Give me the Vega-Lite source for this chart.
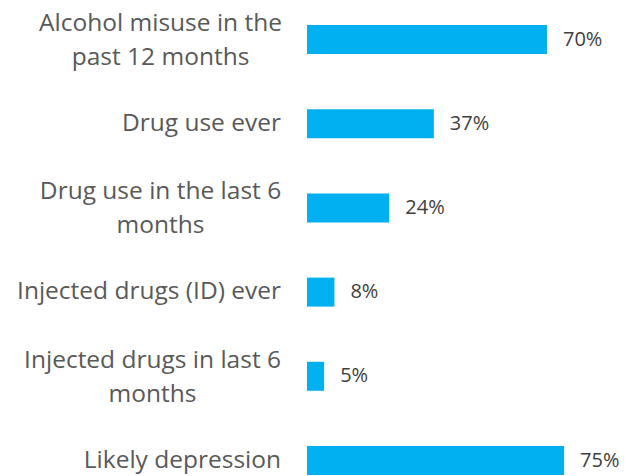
{
  "$schema": "https://vega.github.io/schema/vega-lite/v6.json",
  "width": 634,
  "height": 476,
  "autosize": {"type": "none"},
  "padding": 0,
  "background": "white",
  "config": {"view": {"stroke": null}, "font": "Open Sans"},
  "data": {
    "values": [
      {"label": "Alcohol misuse in the\npast 12 months", "value": 0.70},
      {"label": "Drug use ever", "value": 0.37},
      {"label": "Drug use in the last 6\nmonths", "value": 0.24},
      {"label": "Injected drugs (ID) ever", "value": 0.08},
      {"label": "Injected drugs in last 6\nmonths", "value": 0.05},
      {"label": "Likely depression", "value": 0.75}
    ]
  },
  "encoding": {
    "y": {
      "field": "label",
      "type": "nominal",
      "sort": null,
      "axis": null,
      "scale": {"range": [-2.6, 502.6], "paddingInner": 0, "paddingOuter": 0}
    }
  },
  "layer": [
    {
      "mark": {"type": "bar", "color": "#00B0F0", "height": 29},
      "encoding": {
        "x": {"field": "value", "type": "quantitative", "axis": null,
              "scale": {"domain": [0, 0.75], "range": [307, 564.1], "nice": false, "zero": true}}
      }
    },
    {
      "mark": {"type": "text", "align": "left", "baseline": "middle", "dx": 16, "fontSize": 20, "color": "#404040"},
      "encoding": {
        "x": {"field": "value", "type": "quantitative"},
        "text": {"field": "value", "type": "quantitative", "format": ".0%"}
      }
    },
    {
      "transform": [{"filter": "indexof(datum.label, '\\n') < 0"}],
      "mark": {"type": "text", "align": "right", "baseline": "middle", "fontSize": 24.5, "color": "#595959"},
      "encoding": {
        "x": {"datum": -0.0758, "type": "quantitative"},
        "text": {"field": "label"}
      }
    },
    {
      "transform": [{"filter": "indexof(datum.label, '\\n') >= 0 && indexof(datum.label, 'Injected') < 0"}],
      "mark": {"type": "text", "align": "center", "baseline": "middle", "dy": -16, "fontSize": 24.5, "color": "#595959", "lineBreak": "\n", "lineHeight": 34},
      "encoding": {
        "x": {"datum": -0.4273, "type": "quantitative"},
        "text": {"field": "label"}
      }
    },
    {
      "transform": [{"filter": "indexof(datum.label, '\\n') >= 0 && indexof(datum.label, 'Injected') >= 0"}],
      "mark": {"type": "text", "align": "center", "baseline": "middle", "dy": -15, "fontSize": 24.5, "color": "#595959", "lineBreak": "\n", "lineHeight": 34},
      "encoding": {
        "x": {"datum": -0.4506, "type": "quantitative"},
        "text": {"field": "label"}
      }
    }
  ]
}
